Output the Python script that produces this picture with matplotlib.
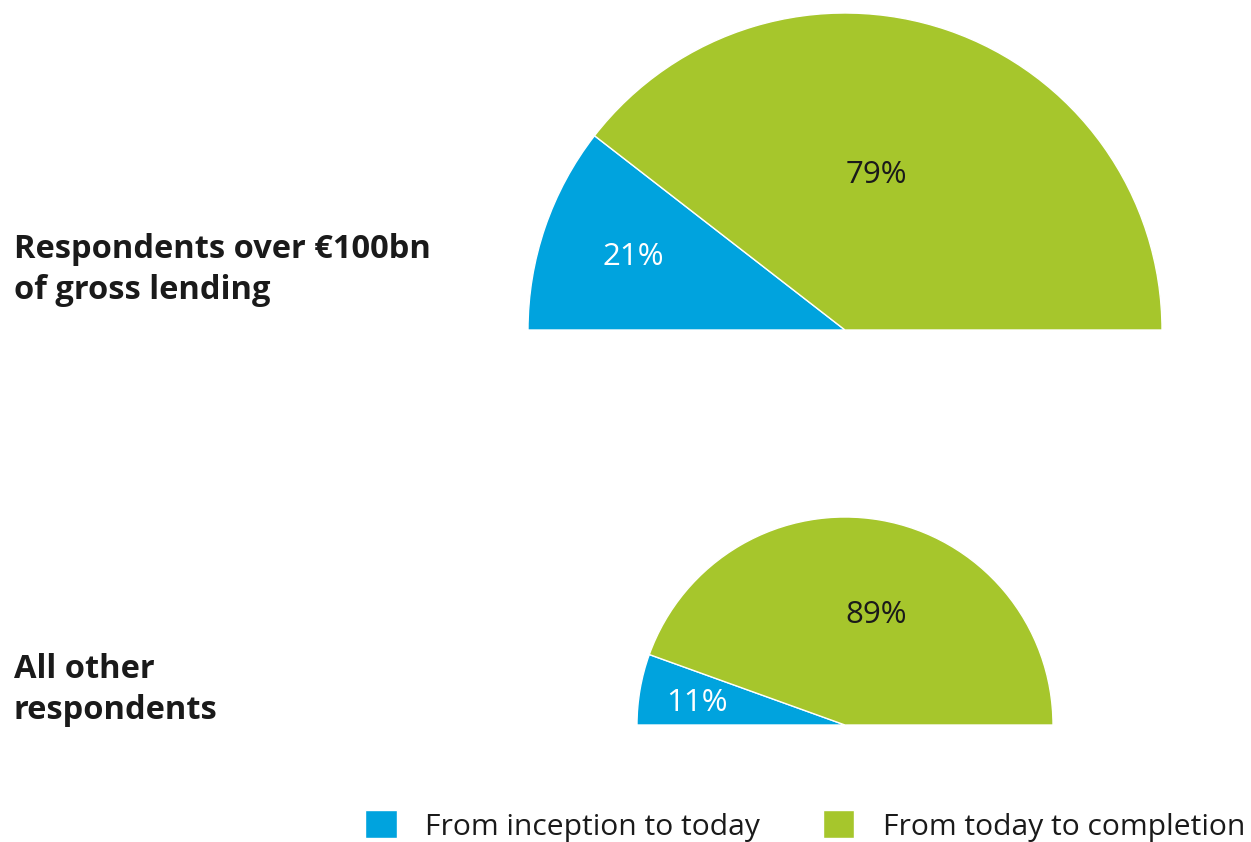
import matplotlib.pyplot as plt

plt.rcParams['font.family'] = ['Open Sans', 'DejaVu Sans']

# data
groups = ['Respondents over €100bn\nof gross lending', 'All other\nrespondents']
inception = [21, 11]
completion = [79, 89]
series_names = ['From inception to today', 'From today to completion']
colors = ['#00A3DE', '#A6C62C']

# layout in pixel units (y measured from bottom)
centers = [(845, 512), (845, 117)]
radii = [317, 208]
label_y = [572, 152]
pct_pos = [[(633, 585), (876, 667)], [(697, 139), (876, 227)]]
pct_colors = ['white', '#1a1a1a']

fig = plt.figure(figsize=(12.51, 8.42), dpi=100)
ax = fig.add_axes([0, 0, 1, 1])

handles = None
for i in range(2):
    wedges, _ = ax.pie([inception[i], completion[i], 100],
                       colors=colors + ['none'],
                       startangle=180, counterclock=False,
                       center=centers[i], radius=radii[i],
                       wedgeprops=dict(edgecolor='white', linewidth=1))
    wedges[2].set_edgecolor('none')
    if handles is None:
        handles = wedges[:2]
    ax.text(14, label_y[i], groups[i], fontsize=23.5, fontweight='bold',
            color='#1a1a1a', va='center', ha='left', linespacing=1.3)
    for j, v in enumerate([inception[i], completion[i]]):
        x, y = pct_pos[i][j]
        ax.text(x, y, f'{v}%', fontsize=22.5, color=pct_colors[j],
                ha='center', va='center')

ax.set_xlim(0, 1251)
ax.set_ylim(0, 842)
ax.set_aspect('auto')
ax.axis('off')

leg = ax.legend(handles, series_names, loc='center left',
                bbox_to_anchor=(365 / 1251, 16 / 842), ncol=2, frameon=False,
                fontsize=21.6, handlelength=1.05, handleheight=1.05,
                handletextpad=0.95, columnspacing=2.1,
                labelcolor='#1a1a1a', borderaxespad=0, borderpad=0)

fig.savefig('out.png', dpi=100)
